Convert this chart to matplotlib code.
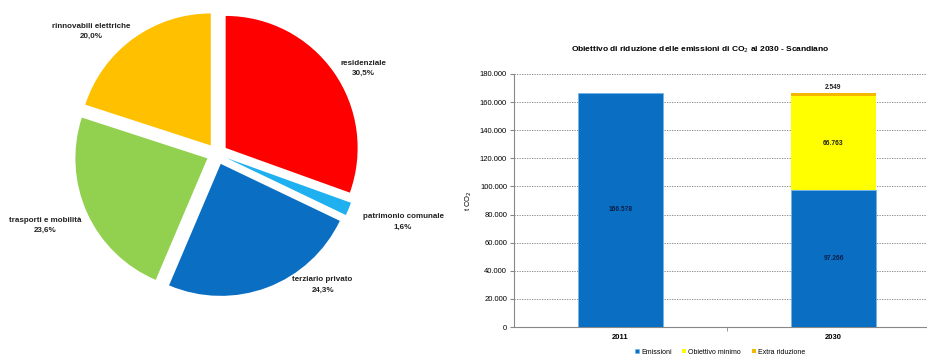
import matplotlib.pyplot as plt
from matplotlib.ticker import FuncFormatter

# pie data
pie_labels = ['residenziale', 'patrimonio comunale', 'terziario privato',
              'trasporti e mobilità', 'rinnovabili elettriche']
pie_values = [30.5, 1.6, 24.3, 23.6, 20.0]
pie_colors = ['#FF0000', '#1FB0F0', '#0A6FC2', '#92D050', '#FFC000']

# bar data
years = ['2011', '2030']
emissioni = [166578, 97266]
obiettivo_minimo = [0, 66763]
extra_riduzione = [0, 2549]
y_ticks = list(range(0, 180001, 20000))


def fmt(v):
    return f"{v:,.0f}".replace(",", ".")


W, H = 928, 358
plt.rcParams['font.family'] = ['Liberation Sans', 'DejaVu Sans']
fig = plt.figure(figsize=(W / 100, H / 100), dpi=100)

# ---- pie ----
cx, cy, r = 217, 154, 132
size = 2.5 * r
ax1 = fig.add_axes([(cx - size / 2) / W, (H - cy - size / 2) / H, size / W, size / H])
texts = [f"{l}\n{v:.1f}%".replace(".", ",") for l, v in zip(pie_labels, pie_values)]
wedges, txts = ax1.pie(pie_values, colors=pie_colors, startangle=90, counterclock=False,
                       explode=[0.08] * 5, labels=texts,
                       textprops=dict(fontsize=5.8, fontweight='bold', color='#222222',
                                      linespacing=1.6))
# label placement (in pie radii), as in the original layout
label_pos = [(1.106, 0.65), (1.41, -0.515), (0.80, -0.992), (-1.303, -0.538), (-0.955, 0.93)]
for t, p in zip(txts, label_pos):
    t.set_position(p)
    t.set_ha('center')
    t.set_va('center')
ax1.set_xlim(-1.25, 1.25)
ax1.set_ylim(-1.25, 1.25)
ax1.set_aspect('equal')

# ---- bars ----
left, right, bottom, top = 514, 940, 327, 74
ax2 = fig.add_axes([left / W, (H - bottom) / H, (right - left) / W, (bottom - top) / H])
x = range(len(years))
w = 0.4
b1 = ax2.bar(x, emissioni, w, color='#0A6FC2', edgecolor='#6FB5E8', linewidth=0.5,
             label='Emissioni', zorder=3)
b2 = ax2.bar(x, obiettivo_minimo, w, bottom=emissioni, color='#FFFF00',
             label='Obiettivo minimo', zorder=3)
base3 = [a + b for a, b in zip(emissioni, obiettivo_minimo)]
b3 = ax2.bar(x, extra_riduzione, w, bottom=base3, color='#F5B800',
             label='Extra riduzione', zorder=3)

for i in x:
    ax2.text(i, emissioni[i] / 2, fmt(emissioni[i]), ha='center', va='center',
             fontsize=4.8, fontweight='bold', color='#0B1F4A', zorder=4)
    if obiettivo_minimo[i]:
        ax2.text(i, emissioni[i] + obiettivo_minimo[i] / 2, fmt(obiettivo_minimo[i]),
                 ha='center', va='center', fontsize=4.8, fontweight='bold',
                 color='#222222', zorder=4)
    if extra_riduzione[i]:
        ax2.text(i, base3[i] + extra_riduzione[i] + 1500, fmt(extra_riduzione[i]),
                 ha='center', va='bottom', fontsize=4.8, fontweight='bold',
                 color='#222222', zorder=4)

ax2.set_xlim(-0.5, 1.5)
ax2.set_ylim(0, 180000)
ax2.set_yticks(y_ticks)
ax2.yaxis.set_major_formatter(FuncFormatter(lambda v, p: fmt(v)))
ax2.set_xticks([0.5], minor=True)
ax2.set_xticks(list(x))
ax2.set_xticklabels(years, fontsize=5.5, fontweight='bold')
ax2.tick_params(axis='x', which='major', length=0, pad=5)
ax2.tick_params(axis='x', which='minor', length=3, color='#888888')
ax2.tick_params(axis='y', labelsize=5.5, length=3, color='#888888', pad=2)
ax2.grid(axis='y', linestyle=(0, (1.5, 1.5)), color='#777777', linewidth=0.6, zorder=0)
for s in ['top', 'right']:
    ax2.spines[s].set_visible(False)
for s in ['left', 'bottom']:
    ax2.spines[s].set_color('#888888')
    ax2.spines[s].set_linewidth(0.8)
ax2.set_ylabel('t CO$_2$', fontsize=5.5, labelpad=4)

fig.text(700 / W, (H - 50) / H,
         'Obiettivo di riduzione delle emissioni di CO$_2$ al 2030 - Scandiano',
         ha='center', va='center', fontsize=6, fontweight='bold')

fig.legend(handles=[b1, b2, b3], loc='center', bbox_to_anchor=(720 / W, 6 / H),
           ncol=3, fontsize=5, frameon=False, handlelength=0.6, handleheight=0.6,
           columnspacing=1.5, handletextpad=0.3)

fig.savefig('out.png', dpi=100)
